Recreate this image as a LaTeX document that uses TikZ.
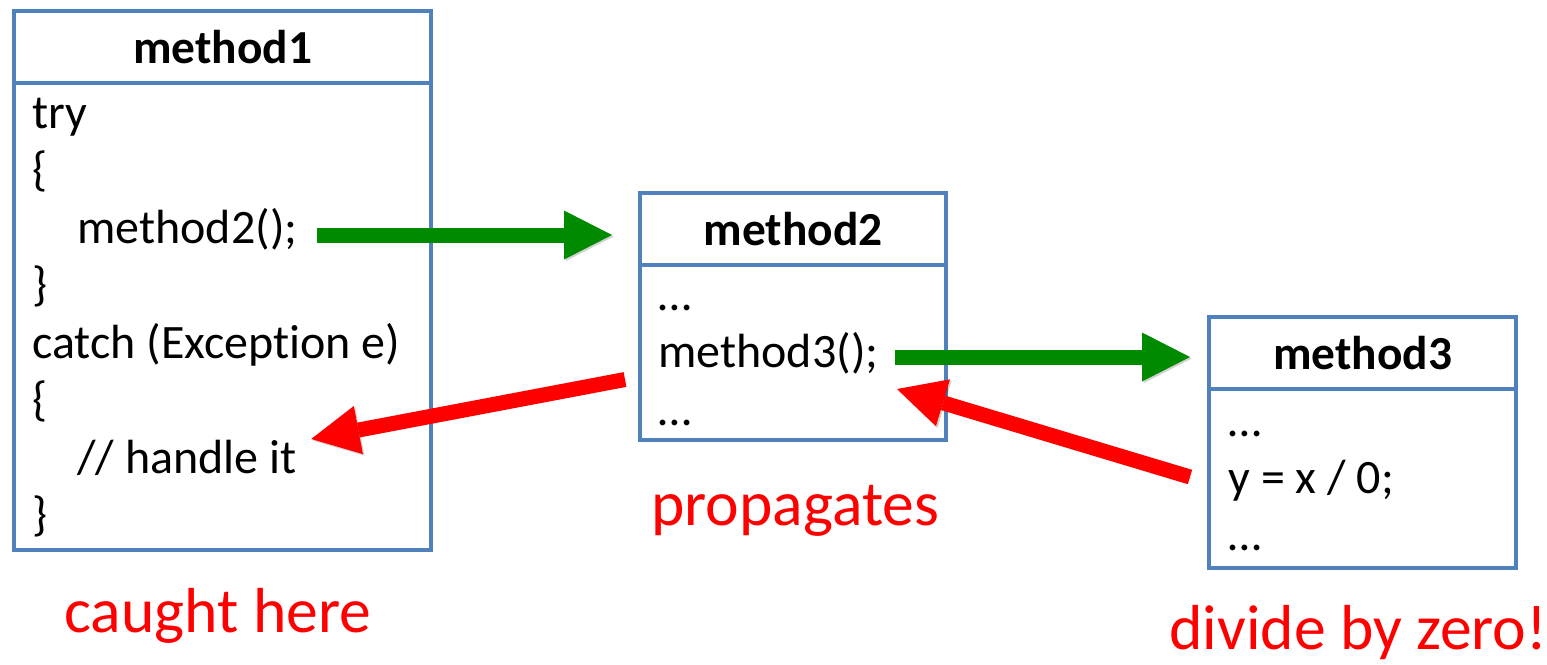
\documentclass[tikz,border=0pt]{standalone}
\usepackage{fontspec}
\setmainfont{Carlito}[Ligatures={NoCommon}]
\usetikzlibrary{arrows.meta,calc}
\definecolor{frameblue}{RGB}{79,129,189}
\definecolor{callgreen}{RGB}{0,138,0}
\definecolor{alertred}{RGB}{255,0,0}
\tikzset{
  framebox/.style={draw=frameblue, line width=2pt, inner sep=0pt, anchor=north west},
  headbox/.style={framebox, font=\fontsize{23.7}{28}\selectfont\bfseries, minimum height=36pt},
  codeline/.style={anchor=base west, inner sep=0pt, font=\fontsize{24}{28}\selectfont},
  note/.style={anchor=base west, inner sep=0pt, text=alertred, font=\fontsize{31.8}{37}\selectfont},
  bigarrow/.style={line width=7.5pt,
    -{Triangle[length=24pt, width=24.5pt, line width=0pt]},
    preaction={draw=black, opacity=0.18, transform canvas={shift={(0.8pt,-0.8pt)}}}},
  callarrow/.style={bigarrow, callgreen},
  throwarrow/.style={bigarrow, alertred},
}
\begin{document}
\begin{tikzpicture}[x=0.5pt, y=-0.5pt]
  \useasboundingbox (0,0) rectangle (1547,664);

  % method1: try / catch block
  \node (m1) [framebox, minimum width=208.5pt, minimum height=269.5pt] at (12,9) {};
  \node (m1h) [headbox, minimum width=208.5pt] at (m1.north west) {method1};
  \node (m1l1) [codeline] at (32,128)   {try};
  \node (m1l2) [codeline] at (32,185.5) {\{};
  \node (m1l3) [codeline] at (77,243)   {method2();};
  \node (m1l4) [codeline] at (32,300.5) {\}};
  \node (m1l5) [codeline] at (32,358)   {catch (Exception e)};
  \node (m1l6) [codeline] at (32,415.5) {\{};
  \node (m1l7) [codeline] at (77,473)   {// handle it};
  \node (m1l8) [codeline] at (32,530.5) {\}};

  % method2
  \node (m2) [framebox, minimum width=153pt, minimum height=123.5pt] at (638,191) {};
  \node (m2h) [headbox, minimum width=153pt] at (m2.north west) {method2};
  \node (m2l1) [codeline] at (658,310)   {…};
  \node (m2l2) [codeline] at (658,367.5) {method3();};
  \node (m2l3) [codeline] at (658,425)   {…};

  % method3
  \node (m3) [framebox, minimum width=153.5pt, minimum height=125.5pt] at (1207,315) {};
  \node (m3h) [headbox, minimum width=153.5pt] at (m3.north west) {method3};
  \node (m3l1) [codeline] at (1228,436) {…};
  \node (m3l2) [codeline] at (1228,493) {y = x / 0;};
  \node (m3l3) [codeline] at (1228,550) {…};

  % captions
  \node (cap1) [note] at (64,632)   {caught here};
  \node (cap2) [note] at (651,525)  {propagates};
  \node (cap3) [note] at (1169,649) {divide by zero!};

  % calls
  \draw[callarrow] ($(m1l3.base east)+(19,-8)$) -- ($(m2.west |- m1l3.base)+(-26,-8)$);
  \draw[callarrow] ($(m2l2.base east)+(16,-10.5)$) -- ($(m3.west |- m2l2.base)+(-17,-10.5)$);

  % exception travelling back up the stack
  \draw[throwarrow] ($(m3.west |- m3l2.base)+(-17,-16)$) -- ($(m2.east |- m2l2.base)+(-51,21.5)$);
  \draw[throwarrow] ($(m2.west |- m2l2.base)+(-13,12)$) -- ($(m1l7.base east)+(14,-34)$);
\end{tikzpicture}
\end{document}
